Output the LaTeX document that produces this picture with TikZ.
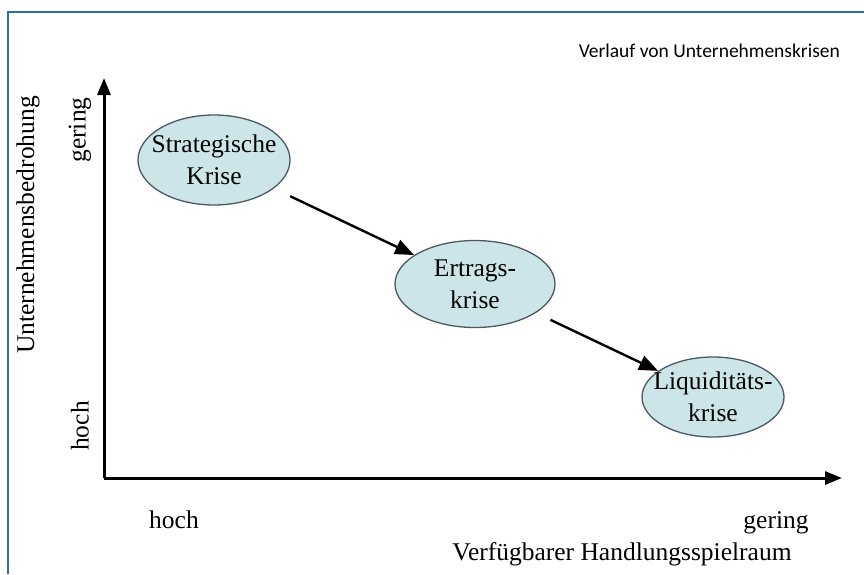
\documentclass[tikz,border=0pt]{standalone}
\usepackage{fontspec}
\setmainfont{Liberation Serif}
\newfontfamily\titlefont{Carlito}
\usetikzlibrary{arrows.meta,shapes.geometric,positioning}
\definecolor{frame}{HTML}{2E6DA4}
\definecolor{crisis}{HTML}{CCE5E8}
\definecolor{rim}{HTML}{4A5A60}
\tikzset{axis/.style={-{Triangle[length=17pt,width=13pt]},line width=3pt},flow/.style={-{Triangle[length=19pt,width=15pt]},line width=2.4pt},crisisnode/.style={ellipse,draw=rim,fill=crisis,line width=1.3pt,inner sep=0pt},lbl/.style={font=\fontsize{25.5}{32}\selectfont,inner sep=0pt,align=center}}

\begin{document}
\begin{tikzpicture}[x=1pt,y=-1pt]
\useasboundingbox (0,0) rectangle (864,574);
\draw[frame,line width=2pt] (8,574)--(8,12)--(864,12);
\node[font=\titlefont\fontsize{19.5}{22}\selectfont,anchor=base east,inner sep=0pt] (title) at (840,57) {Verlauf von Unternehmenskrisen};
% axes
\coordinate (origin) at (104,478); \coordinate (ytop) at (104,78); \coordinate (xend) at (842,478);
\draw[axis] (origin)--(ytop); \draw[axis] (origin)--(xend);
\node[lbl,rotate=90] (ylabel) at (28,225) {Unternehmensbedrohung};
\node[lbl,rotate=90] (ylow) at (80,130) {gering}; \node[lbl,rotate=90] (yhigh) at (80,426) {hoch};
\node[lbl,anchor=base] (xhigh) at (174,528) {hoch}; \node[lbl,anchor=base] (xlow) at (776,528) {gering};
\node[lbl,anchor=base] (xlabel) at (622,560) {Verfügbarer Handlungsspielraum};
% crises
\node[crisisnode,minimum width=152pt,minimum height=90pt] (strat) at (214,160) {};
\node[crisisnode,minimum width=160pt,minimum height=87pt] (ertrag) at (475,284) {};
\node[crisisnode,minimum width=142pt,minimum height=80pt] (liqui) at (713,397) {};
\node[lbl] at (strat) {Strategische\\Krise}; \node[lbl] at (ertrag) {Ertrags-\\krise}; \node[lbl] at (liqui) {Liquiditäts-\\krise};
\draw[flow,shorten <=18pt] (strat)--(ertrag);
\draw[flow,shorten <=16pt] (ertrag)--(liqui);
\end{tikzpicture}
\end{document}
